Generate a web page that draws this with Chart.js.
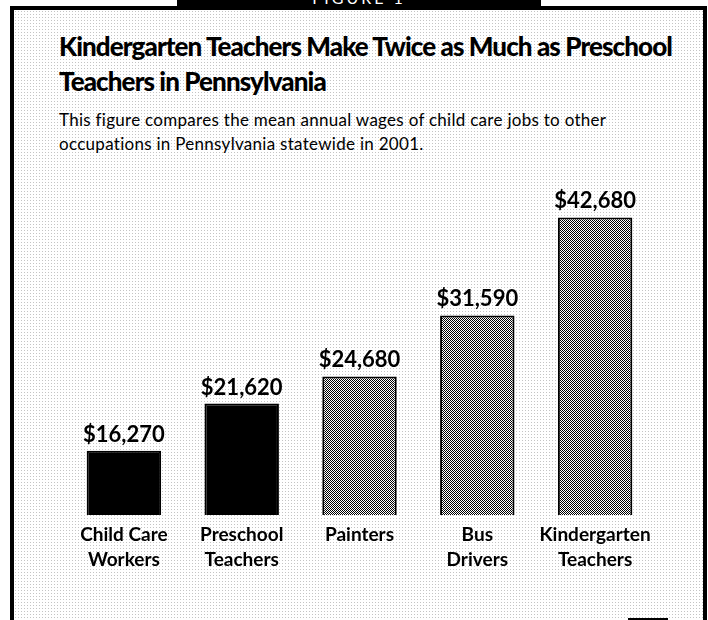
<!DOCTYPE html>
<html>
<head>
<meta charset="utf-8">
<script src="https://cdn.jsdelivr.net/npm/chart.js@4.4.1/dist/chart.umd.min.js"></script>
<style>
  html, body { margin: 0; padding: 0; background: #fff; }
  body { width: 708px; height: 620px; position: relative; overflow: hidden; font-family: Lato, "Open Sans", sans-serif; color: #000; }
  #panel {
    position: absolute; left: 10px; top: 6px; width: 697px; height: 640px; box-sizing: border-box;
    border-left: 4px solid #000; border-top: 4px solid #000; border-right: 4px solid #000;
    background-color: #fff;
  }
  #hdr { position: absolute; left: 177px; top: 0; width: 364px; height: 9px; background: #000; overflow: hidden; }
  #hdr span { position: absolute; left: 0; right: 0; top: -10px; text-align: center; color: #fff; font-size: 16px; line-height: 16px; letter-spacing: 3px; }
  #title { position: absolute; left: 59px; top: 29px; font-weight: 900; font-size: 26px; line-height: 35px; white-space: nowrap; }
  #sub { position: absolute; left: 59px; top: 108px; font-size: 17px; line-height: 24px; white-space: nowrap; }
  .fit { display: inline-block; }
  #wrap { position: absolute; left: 0; top: 150px; width: 708px; height: 450px; }
  #foot { position: absolute; left: 628px; top: 618px; width: 40px; height: 2px; background: #000; }
</style>
</head>
<body>
<div id="panel"></div>
<div id="hdr"><span>FIGURE 1</span></div>
<div id="title"><span class="fit" data-w="613">Kindergarten Teachers Make Twice as Much as Preschool</span><br><span class="fit">Teachers in Pennsylvania</span></div>
<div id="sub"><span class="fit" data-w="547">This figure compares the mean annual wages of child care jobs to other</span><br><span class="fit">occupations in Pennsylvania statewide in 2001.</span></div>
<div id="wrap"><canvas id="c" width="708" height="450"></canvas></div>
<div id="foot"></div>
<script>
// ---- data ----
const categories = [["Child Care", "Workers"], ["Preschool", "Teachers"], "Painters", ["Bus", "Drivers"], ["Kindergarten", "Teachers"]];
const wages = [16270, 21620, 24680, 31590, 42680];
const childCareJobs = [true, true, false, false, false];

// ---- faint dotted paper texture for the panel ----
(function () {
  const t = document.createElement('canvas');
  t.width = 3; t.height = 3;
  const tc = t.getContext('2d');
  tc.fillStyle = '#fff'; tc.fillRect(0, 0, 3, 3);
  tc.fillStyle = '#c4c4c4'; tc.fillRect(1, 1, 1, 1);
  document.getElementById('panel').style.backgroundImage = 'url(' + t.toDataURL() + ')';
})();

// ---- fit title/subtitle line widths with letter spacing ----
document.querySelectorAll('#title, #sub').forEach(block => {
  const spans = block.querySelectorAll('.fit');
  const first = spans[0];
  const target = parseFloat(first.dataset.w);
  const w = first.getBoundingClientRect().width;
  const ls = (target - w) / first.textContent.length;
  spans.forEach(s => s.style.letterSpacing = ls + 'px');
});

// ---- dotted fill for the other occupations ----
function makePattern(ctx) {
  const t = document.createElement('canvas');
  t.width = 2; t.height = 2;
  const tc = t.getContext('2d');
  tc.fillStyle = '#fff'; tc.fillRect(0, 0, 2, 2);
  tc.fillStyle = '#000';
  tc.fillRect(0, 0, 1, 1);
  tc.fillRect(1, 1, 1, 1);
  return ctx.createPattern(t, 'repeat');
}

const canvas = document.getElementById('c');
const ctx = canvas.getContext('2d');
const hatch = makePattern(ctx);

const valueLabels = {
  id: 'valueLabels',
  afterDatasetsDraw(chart) {
    const c = chart.ctx;
    const meta = chart.getDatasetMeta(0);
    c.save();
    c.font = 'bold 22px Lato, "Open Sans", sans-serif';
    c.fillStyle = '#000';
    c.textAlign = 'center';
    c.textBaseline = 'alphabetic';
    meta.data.forEach((bar, i) => {
      const v = chart.data.datasets[0].data[i];
      c.fillText('$' + v.toLocaleString('en-US'), bar.x, bar.y - 9);
    });
    c.restore();
  }
};

new Chart(ctx, {
  type: 'bar',
  data: {
    labels: categories,
    datasets: [{
      data: wages,
      backgroundColor: childCareJobs.map(c => c ? '#000' : hatch),
      borderColor: '#000',
      borderWidth: 2,
      borderSkipped: false,
      barPercentage: 0.632,
      categoryPercentage: 1
    }]
  },
  options: {
    responsive: false,
    animation: false,
    layout: { padding: { left: 65, right: 54, top: 47, bottom: 25 } },
    plugins: { legend: { display: false }, tooltip: { enabled: false }, title: { display: false } },
    scales: {
      x: {
        grid: { display: false, drawTicks: false },
        border: { display: false },
        ticks: { color: '#000', padding: 7, font: { family: 'Lato, "Open Sans", sans-serif', size: 19, weight: 'bold', lineHeight: 1.316 } },
        afterFit(scale) { scale.height = 60; }
      },
      y: {
        display: false,
        min: 9000,
        max: 45000
      }
    }
  },
  plugins: [valueLabels]
});
</script>
</body>
</html>
